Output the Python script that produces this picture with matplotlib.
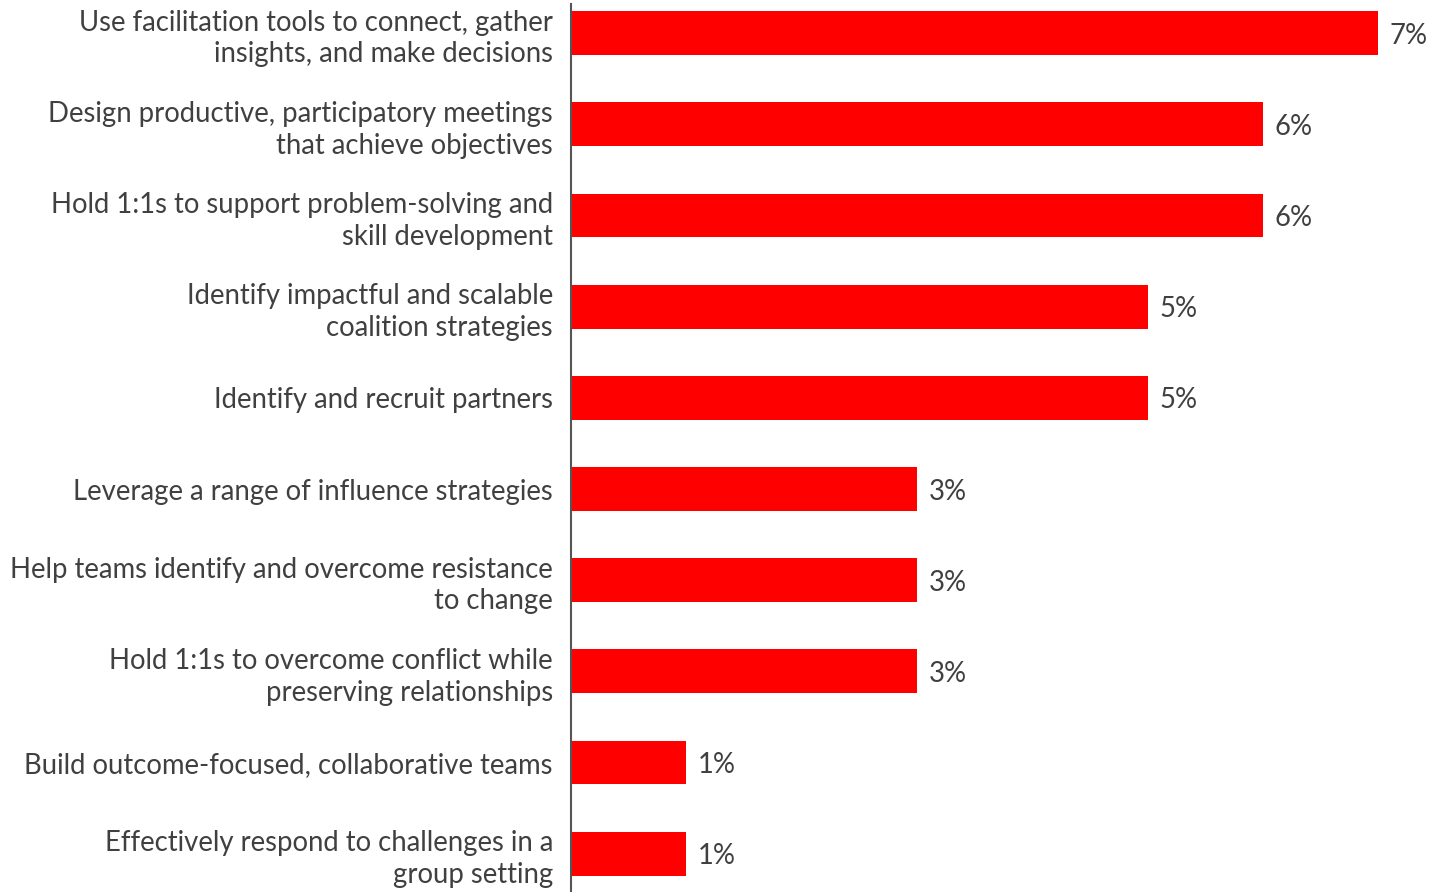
import matplotlib.pyplot as plt

# skills and share of responses (%)
skills = [
    'Use facilitation tools to connect, gather\ninsights, and make decisions',
    'Design productive, participatory meetings\nthat achieve objectives',
    'Hold 1:1s to support problem-solving and\nskill development',
    'Identify impactful and scalable\ncoalition strategies',
    'Identify and recruit partners',
    'Leverage a range of influence strategies',
    'Help teams identify and overcome resistance\nto change',
    'Hold 1:1s to overcome conflict while\npreserving relationships',
    'Build outcome-focused, collaborative teams',
    'Effectively respond to challenges in a\ngroup setting',
]
shares = [7, 6, 6, 5, 5, 3, 3, 3, 1, 1]

plt.rcParams['font.family'] = ['Lato', 'DejaVu Sans']
textColor = '#404040'

figure = plt.figure(figsize=(14.46, 8.92), dpi=100)
axes = figure.add_axes([571 / 1446, 0.0, 865 / 1446, 888 / 892])

pos = list(range(len(skills)))
axes.barh(pos, shares, height=0.48, color='#ff0000')

for y, v in zip(pos, shares):
    axes.text(v + 0.1, y, f'{v}%', va='center_baseline', ha='left',
              fontsize=19.8, color=textColor)

axes.set_yticks(pos)
axes.set_yticklabels(skills, fontsize=19.8, color=textColor, linespacing=1.27)
axes.tick_params(axis='y', length=0, pad=13)
axes.set_xticks([])
axes.set_xlim(0, 7.5)
axes.set_ylim(9.42, -0.32)

for side in ['top', 'right', 'bottom']:
    axes.spines[side].set_visible(False)
axes.spines['left'].set_color('#555555')
axes.spines['left'].set_linewidth(1.5)

figure.savefig('out.png', dpi=100)
